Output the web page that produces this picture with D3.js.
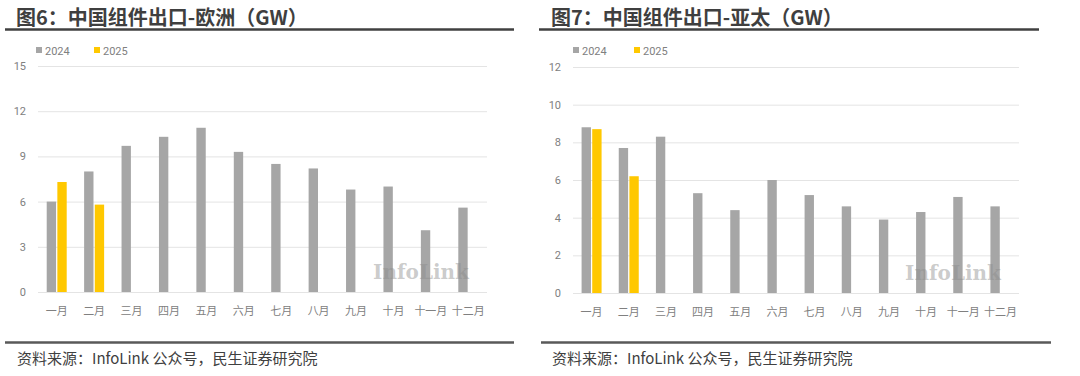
<!DOCTYPE html>
<html>
<head>
<meta charset="utf-8">
<script src="https://cdn.jsdelivr.net/npm/d3@7"></script>
<style>
  body { margin: 0; background: #fff; }
  svg { display: block; }
</style>
</head>
<body>
<div id="chart"></div>
<script>
// Data
const months = ["一月", "二月", "三月", "四月", "五月", "六月", "七月", "八月", "九月", "十月", "十一月", "十二月"];
const years = ["2024", "2025"];

const europe2024 = [6.0, 8.0, 9.7, 10.3, 10.9, 9.3, 8.5, 8.2, 6.8, 7.0, 4.1, 5.6];
const europe2025 = [7.3, 5.8];
const europeTicks = [0, 3, 6, 9, 12, 15];

const apac2024 = [8.8, 7.7, 8.3, 5.3, 4.4, 6.0, 5.2, 4.6, 3.9, 4.3, 5.1, 4.6];
const apac2025 = [8.7, 6.2];
const apacTicks = [0, 2, 4, 6, 8, 10, 12];

const colors = { "2024": "#a6a6a6", "2025": "#ffc800" };

const width = 1080;
const height = 376;

const svg = d3.select("#chart")
    .append("svg")
    .attr("width", width)
    .attr("height", height);

function drawPanel(p) {
    const g = svg.append("g");

    // Title and rule under it
    g.append("text")
        .attr("x", p.titleX)
        .attr("y", 25)
        .attr("font-family", "'Noto Sans CJK SC', sans-serif")
        .attr("font-weight", "bold")
        .attr("font-size", 20)
        .attr("fill", "#3f3f3f")
        .text(p.title);

    g.append("line")
        .attr("x1", p.ruleTop[0]).attr("x2", p.ruleTop[1])
        .attr("y1", 29.5).attr("y2", 29.5)
        .attr("stroke", "#404040")
        .attr("stroke-width", 2.5);

    // Scales
    const x0 = d3.scaleBand()
        .domain(months)
        .range([p.left, p.right]);

    const bw = x0.bandwidth();
    const x1 = d3.scaleBand()
        .domain(years)
        .range([bw / 2 - 10, bw / 2 + 10])
        .paddingInner(0.12);

    const y = d3.scaleLinear()
        .domain([0, p.ticks[p.ticks.length - 1]])
        .range([p.bottom, p.top]);

    // Y axis with gridlines
    const yAxis = g.append("g")
        .attr("transform", `translate(${p.left},0)`)
        .call(d3.axisLeft(y)
            .tickValues(p.ticks)
            .tickSize(-(p.right - p.left))
            .tickPadding(12));
    yAxis.select(".domain").remove();
    yAxis.selectAll(".tick line")
        .attr("stroke", "#e4e4e4")
        .attr("stroke-width", 1);
    yAxis.selectAll(".tick text")
        .attr("fill", "#808080")
        .style("font-family", "Roboto, sans-serif")
        .style("font-size", "11px");

    // Bars
    const rows = months.map((m, i) => ({
        month: m,
        values: [
            { year: "2024", value: p.s2024[i] },
            { year: "2025", value: p.s2025[i] }
        ].filter(d => d.value != null)
    }));

    g.selectAll(".grp")
        .data(rows)
        .enter()
        .append("g")
        .attr("transform", d => `translate(${x0(d.month)},0)`)
        .selectAll("rect")
        .data(d => d.values)
        .enter()
        .append("rect")
        .attr("x", d => x1(d.year))
        .attr("y", d => y(d.value))
        .attr("width", x1.bandwidth())
        .attr("height", d => y(0) - y(d.value))
        .attr("fill", d => colors[d.year]);

    // X axis labels
    const xAxis = g.append("g")
        .attr("transform", `translate(0,${p.bottom})`)
        .call(d3.axisBottom(x0).tickSize(0).tickPadding(15));
    xAxis.select(".domain").remove();
    xAxis.selectAll(".tick text")
        .attr("fill", "#808080")
        .style("font-family", "'Noto Sans CJK SC', sans-serif")
        .style("font-size", "11px");

    // Legend
    years.forEach((yr, i) => {
        const lx = p.legendX[i];
        g.append("rect")
            .attr("x", lx).attr("y", 47)
            .attr("width", 6).attr("height", 6)
            .attr("fill", colors[yr]);
        g.append("text")
            .attr("x", lx + 9).attr("y", 51)
            .attr("dy", "0.35em")
            .attr("fill", "#808080")
            .style("font-family", "Roboto, sans-serif")
            .style("font-size", "11px")
            .text(yr);
    });

    // Watermark
    g.append("text")
        .attr("x", p.right - 66)
        .attr("y", p.bottom - 13)
        .attr("text-anchor", "middle")
        .attr("font-family", "'DejaVu Serif', serif")
        .attr("font-weight", "bold")
        .attr("font-size", 20)
        .attr("fill", "#8c8c8c")
        .attr("fill-opacity", 0.45)
        .text("InfoLink");

    // Bottom rule and source
    g.append("line")
        .attr("x1", p.ruleBottom[0]).attr("x2", p.ruleBottom[1])
        .attr("y1", 342.5).attr("y2", 342.5)
        .attr("stroke", "#595959")
        .attr("stroke-width", 2.5);

    g.append("text")
        .attr("x", p.sourceX)
        .attr("y", 364)
        .attr("font-family", "'Noto Sans CJK SC', sans-serif")
        .attr("font-size", 15)
        .attr("fill", "#404040")
        .text("资料来源：InfoLink 公众号，民生证券研究院");
}

drawPanel({
    title: "图6：中国组件出口-欧洲（GW）",
    titleX: 16,
    ruleTop: [5, 514],
    ruleBottom: [5, 514],
    sourceX: 17,
    left: 38, right: 487, top: 66, bottom: 292,
    ticks: europeTicks,
    s2024: europe2024,
    s2025: europe2025,
    legendX: [36, 94]
});

drawPanel({
    title: "图7：中国组件出口-亚太（GW）",
    titleX: 551,
    ruleTop: [539, 1039],
    ruleBottom: [541, 1051],
    sourceX: 552,
    left: 573, right: 1019, top: 67, bottom: 293,
    ticks: apacTicks,
    s2024: apac2024,
    s2025: apac2025,
    legendX: [573, 634]
});
</script>
</body>
</html>
